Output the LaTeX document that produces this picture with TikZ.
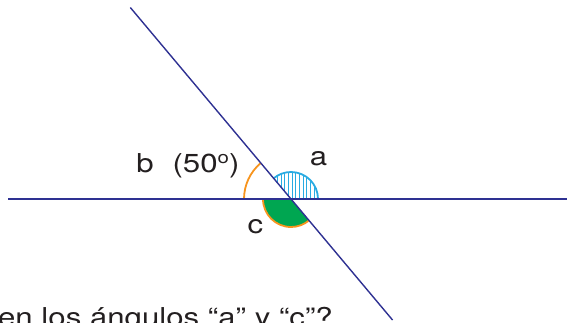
\documentclass[tikz,border=0pt]{standalone}
\usepackage{fontspec}
\setmainfont{TeX Gyre Heros}
\usetikzlibrary{calc}
\definecolor{navy}{HTML}{2E3192}
\definecolor{arcorange}{HTML}{F7941D}
\definecolor{arcblue}{HTML}{29ABE2}
\definecolor{arcgreen}{HTML}{00A651}
\definecolor{inkgray}{HTML}{231F20}
\newcommand{\ordo}{\raisebox{0.32em}{\fontsize{17}{17}\selectfont o}}
\begin{document}
\begin{tikzpicture}[x=1pt,y=1pt,
    lineline/.style={navy,line width=1.4pt},
    anglearc/.style={line width=1.8pt},
    hatch/.style={arcblue,line width=0.5pt},
    lbl/.style={font=\fontsize{26}{30}\selectfont,text=inkgray,inner sep=0pt,xscale=1.2,anchor=base}]
  \useasboundingbox (0,0) rectangle (567,322);
  \clip (0,0) rectangle (567,322);

  % Intersection and line ends
  \coordinate (O) at (291,123);
  \coordinate (L) at (8,123);
  \coordinate (R) at (567,123);
  \coordinate (T) at ($(O)+(130:250)$);
  \coordinate (B) at ($(O)+(-50:158)$);

  % Angle c (filled)
  \fill[arcgreen] (O) -- ++(180:28) arc (180:310:28) -- cycle;
  \draw[anglearc,arcorange] ($(O)+(180:28)$) arc (180:310:28);

  % Angle a (hatched)
  \begin{scope}
    \clip (O) -- ++(0:27) arc (0:130:27) -- cycle;
    \foreach \x in {266,269.7,...,320}
      \draw[hatch] (\x,123) -- (\x,152);
  \end{scope}
  \draw[anglearc,arcblue] ($(O)+(0:27)$) arc (0:130:27);

  % Angle b
  \draw[anglearc,arcorange] ($(O)+(130:47)$) arc (130:180:47);

  % Lines
  \draw[lineline] (L) -- (R);
  \draw[lineline] (T) -- (B);

  % Labels
  \node[lbl] (a) at (318.5,157) {a};
  \node[lbl] (b) at (145,150) {b};
  \node[lbl] (bval) at (206,150) {(50\ordo)};
  \node[lbl] (c) at (255.5,89) {c};

  % Question (cut by the lower edge)
  \node[lbl,anchor=base east] (q) at (333,-4) {¿Cuánto miden los ángulos “a” y “c”?};
\end{tikzpicture}
\end{document}
